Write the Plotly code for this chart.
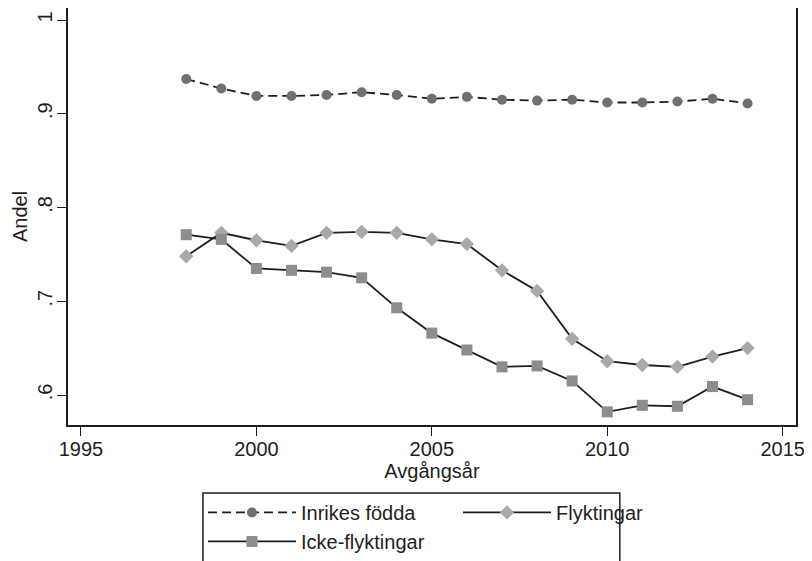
import plotly.graph_objects as go

years = list(range(1998, 2015))
inrikes = [0.937, 0.927, 0.919, 0.919, 0.920, 0.923, 0.920, 0.916, 0.918,
           0.915, 0.914, 0.915, 0.912, 0.912, 0.913, 0.916, 0.911]
flyktingar = [0.748, 0.773, 0.765, 0.759, 0.773, 0.774, 0.773, 0.766, 0.761,
              0.733, 0.711, 0.660, 0.636, 0.632, 0.630, 0.641, 0.650]
icke = [0.771, 0.766, 0.735, 0.733, 0.731, 0.725, 0.693, 0.666, 0.648,
        0.630, 0.631, 0.615, 0.582, 0.589, 0.588, 0.609, 0.595]

xticks = [1995, 2000, 2005, 2010, 2015]
yticks = [0.6, 0.7, 0.8, 0.9, 1.0]
ytick_labels = [".6", ".7", ".8", ".9", "1"]

FONT = "Liberation Sans, Arial, sans-serif"
LINE = "#1e1e1e"

fig = go.Figure()
fig.add_trace(go.Scatter(
    x=years, y=inrikes, name="Inrikes födda", mode="lines+markers",
    line=dict(color=LINE, width=1.8, dash="9px,5px"),
    marker=dict(symbol="circle", size=10, color="#707073"),
))
fig.add_trace(go.Scatter(
    x=years, y=flyktingar, name="Flyktingar", mode="lines+markers",
    line=dict(color=LINE, width=1.8),
    marker=dict(symbol="diamond", size=11, color="#a9a9ab"),
))
fig.add_trace(go.Scatter(
    x=years, y=icke, name="Icke-flyktingar", mode="lines+markers",
    line=dict(color=LINE, width=1.8),
    marker=dict(symbol="square", size=11, color="#8d8d91"),
))

# legend frame
fig.add_shape(type="rect", xref="paper", yref="paper",
              x0=0.1854, x1=0.758, y0=-0.163, y1=-0.6,
              line=dict(color=LINE, width=1.5), fillcolor="white", layer="below")

fig.update_layout(
    width=812, height=561,
    margin=dict(l=60, r=24, t=0, b=144, autoexpand=False),
    paper_bgcolor="white", plot_bgcolor="white",
    font=dict(family=FONT, size=20, color="#1e1e1e"),
    showlegend=True,
    legend=dict(
        orientation="h", x=0.1854, y=-0.163, xanchor="left", yanchor="top",
        borderwidth=0, bgcolor="rgba(0,0,0,0)",
        entrywidth=152, entrywidthmode="pixels", itemwidth=88,
        font=dict(family=FONT, size=20, color="#1e1e1e"),
        tracegroupgap=0,
    ),
)
fig.update_xaxes(
    range=[1994.63, 2015.38], tickvals=xticks, ticktext=[str(t) for t in xticks],
    ticks="outside", ticklen=9, tickwidth=1.2, tickcolor="#1e1e1e",
    showline=True, linecolor="#1e1e1e", linewidth=1.5, mirror=True,
    showgrid=False, zeroline=False, automargin=False,
    ticklabelstandoff=-4,
    title=dict(text="Avgångsår", standoff=0, font=dict(size=20)),
    tickfont=dict(size=20),
)
fig.update_yaxes(
    range=[0.568, 1.0128], tickvals=yticks, ticktext=ytick_labels,
    ticks="outside", ticklen=9, tickwidth=1.2, tickcolor="#1e1e1e",
    tickangle=-90, ticklabelstandoff=-3,
    showline=True, linecolor="#1e1e1e", linewidth=1.5, mirror=True,
    showgrid=False, zeroline=False, automargin=False,
    title=dict(text="Andel", standoff=1, font=dict(size=20)),
    tickfont=dict(size=20),
)

fig.write_html("out.html")
